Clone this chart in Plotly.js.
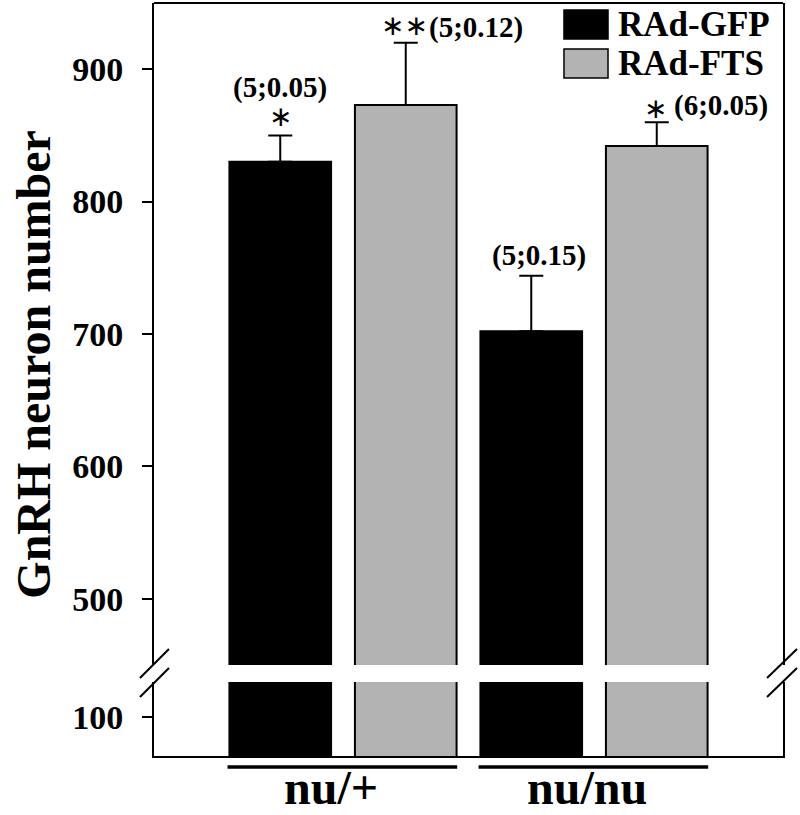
<!DOCTYPE html>
<html>
<head>
<meta charset="utf-8">
<script src="https://cdn.plot.ly/plotly-3.0.1.min.js"></script>
<style>html,body{margin:0;padding:0;background:#fff;}#chart{width:800px;height:815px;}</style>
</head>
<body>
<div id="chart"></div>
<script>
// ---- data ----
const categories = ['nu/+', 'nu/nu'];
const seriesNames = ['RAd-GFP', 'RAd-FTS'];
const gfpValues = [830, 702];
const gfpErrors = [20, 42];
const ftsValues = [873, 842];
const ftsErrors = [47, 18];
const gfpLabels = ['(5;0.05)', '(5;0.15)'];
const gfpStars = ['*', ''];
const ftsLabels = ['(5;0.12)', '(6;0.05)'];
const ftsStars = ['**', '*'];
const upperTicks = [500, 600, 700, 800, 900];
const lowerTicks = [100];

const SERIF = 'Liberation Serif, Times New Roman, serif';
const GRAY = '#b3b3b3';

function barTrace(name, vals, errs, color, yaxis, withErr, showLeg) {
  const t = {
    type: 'bar', name: name, x: categories, y: vals, yaxis: yaxis, xaxis: 'x',
    marker: {color: color, line: {color: '#000', width: 2}},
    showlegend: showLeg, hoverinfo: 'skip'
  };
  if (withErr) {
    t.error_y = {type: 'data', symmetric: false, array: errs, arrayminus: errs.map(() => 0),
      color: '#000', thickness: 2, width: 12};
  }
  return t;
}

const data = [
  barTrace(seriesNames[0], gfpValues, gfpErrors, '#000000', 'y', true, false),
  barTrace(seriesNames[1], ftsValues, ftsErrors, GRAY, 'y', true, false),
  barTrace(seriesNames[0], gfpValues, gfpErrors, '#000000', 'y2', false, false),
  barTrace(seriesNames[1], ftsValues, ftsErrors, GRAY, 'y2', false, false)
];

// annotation styling offsets (pixels) per bar
const labelFont = {family: SERIF, size: 29, color: '#000', weight: 'bold'};
const starFont = {family: 'DejaVu Sans, sans-serif', size: 28, color: '#000'};
const gfpLabelShift = [[0, 48], [8, 20]];
const gfpStarShift = [[0, 19], [0, 0]];
const ftsLabelShift = [[70, 15], [64, 17]];
const ftsStarShift = [[-1, 17], [-1, 14]];

const annotations = [];
function addBarNotes(vals, errs, labels, stars, off, lShift, sShift) {
  for (let i = 0; i < categories.length; i++) {
    const xc = i + off, yt = vals[i] + errs[i];
    if (labels[i]) annotations.push({x: xc, y: yt, xref: 'x', yref: 'y', text: labels[i], showarrow: false,
      xanchor: 'center', yanchor: 'middle', xshift: lShift[i][0], yshift: lShift[i][1], font: labelFont});
    if (stars[i]) annotations.push({x: xc, y: yt, xref: 'x', yref: 'y', text: stars[i].replace(/\*/g, '\u2217'), showarrow: false,
      xanchor: 'center', yanchor: 'middle', xshift: sShift[i][0], yshift: sShift[i][1], font: starFont});
  }
}
addBarNotes(gfpValues, gfpErrors, gfpLabels, gfpStars, -0.25, gfpLabelShift, gfpStarShift);
addBarNotes(ftsValues, ftsErrors, ftsLabels, ftsStars, 0.25, ftsLabelShift, ftsStarShift);

// category labels (below the group underlines)
const catLabelShift = [-12, -7];
categories.forEach((c, i) => {
  annotations.push({x: i, xref: 'x', yref: 'paper', y: -0.0412, text: c, showarrow: false,
    xanchor: 'center', yanchor: 'middle', xshift: catLabelShift[i], borderpad: 0,
    font: {family: SERIF, size: 48, color: '#000', weight: 'bold'}});
});

// y-axis title
annotations.push({xref: 'paper', yref: 'paper', x: -0.192, y: 0.52, text: 'GnRH neuron number',
  textangle: -90, showarrow: false, xanchor: 'center', yanchor: 'middle',
  font: {family: SERIF, size: 48, color: '#000', weight: 'bold'}});

// custom legend
const legFont = {family: SERIF, size: 35, color: '#000', weight: 'bold'};
annotations.push({xref: 'paper', yref: 'paper', x: 0.734, y: 0.9708, text: seriesNames[0], showarrow: false,
  xanchor: 'left', yanchor: 'middle', font: legFont});
annotations.push({xref: 'paper', yref: 'paper', x: 0.734, y: 0.919, text: seriesNames[1], showarrow: false,
  xanchor: 'left', yanchor: 'middle', font: legFont});

const lineStyle = {color: '#000', width: 2};
const shapes = [
  // top frame line
  {type: 'line', xref: 'paper', yref: 'paper', x0: 0, x1: 1, y0: 1, y1: 1, line: lineStyle},
  // legend swatches
  {type: 'rect', xref: 'paper', yref: 'paper', x0: 0.6518, x1: 0.7218, y0: 0.9522, y1: 0.9907,
    fillcolor: '#000', line: {color: '#000', width: 1.5}},
  {type: 'rect', xref: 'paper', yref: 'paper', x0: 0.6518, x1: 0.7218, y0: 0.9004, y1: 0.9389,
    fillcolor: GRAY, line: {color: '#000', width: 1.5}},
  // axis break marks
  {type: 'line', xref: 'paper', yref: 'paper', x0: -0.0223, x1: 0.0238, y0: 0.1036, y1: 0.1421, line: lineStyle},
  {type: 'line', xref: 'paper', yref: 'paper', x0: -0.0223, x1: 0.0238, y0: 0.0784, y1: 0.1169, line: lineStyle},
  {type: 'line', xref: 'paper', yref: 'paper', x0: 0.9746, x1: 1.0223, y0: 0.1036, y1: 0.1421, line: lineStyle},
  {type: 'line', xref: 'paper', yref: 'paper', x0: 0.9746, x1: 1.0223, y0: 0.0784, y1: 0.1169, line: lineStyle}
];
// group underlines below categories
for (let i = 0; i < categories.length; i++) {
  shapes.push({type: 'line', xref: 'x', yref: 'paper', x0: i - 0.46, x1: i + 0.455, y0: -0.0146, y1: -0.0146,
    line: {color: '#000', width: 3.5}});
}

const tickFont = {family: SERIF, size: 34, color: '#000', weight: 'bold'};
const layout = {
  width: 800, height: 815,
  margin: {l: 154, r: 17, t: 3, b: 59},
  paper_bgcolor: '#fff', plot_bgcolor: '#fff',
  barmode: 'group', bargap: 0, bargroupgap: 0.19,
  showlegend: false,
  xaxis: {type: 'category', range: [-0.753, 1.753], anchor: 'y2', showline: true, linecolor: '#000', linewidth: 2,
    ticks: '', showgrid: false, zeroline: false, showticklabels: false, fixedrange: true},
  yaxis: {domain: [0.1209, 1], range: [450, 950], tickvals: upperTicks, ticktext: upperTicks.map(String),
    showline: true, mirror: true, linecolor: '#000', linewidth: 2, ticks: 'outside', ticklen: 10, tickwidth: 2,
    tickcolor: '#000', showgrid: false, zeroline: false, tickfont: tickFont, ticklabelstandoff: 12, fixedrange: true},
  yaxis2: {domain: [0, 0.0983], range: [70.5, 126.4], tickvals: lowerTicks, ticktext: lowerTicks.map(String),
    showline: true, mirror: true, linecolor: '#000', linewidth: 2, ticks: 'outside', ticklen: 10, tickwidth: 2,
    tickcolor: '#000', showgrid: false, zeroline: false, tickfont: tickFont, ticklabelstandoff: 12, fixedrange: true},
  annotations: annotations,
  shapes: shapes
};

Plotly.newPlot('chart', data, layout, {staticPlot: true, displayModeBar: false});
</script>
</body>
</html>
